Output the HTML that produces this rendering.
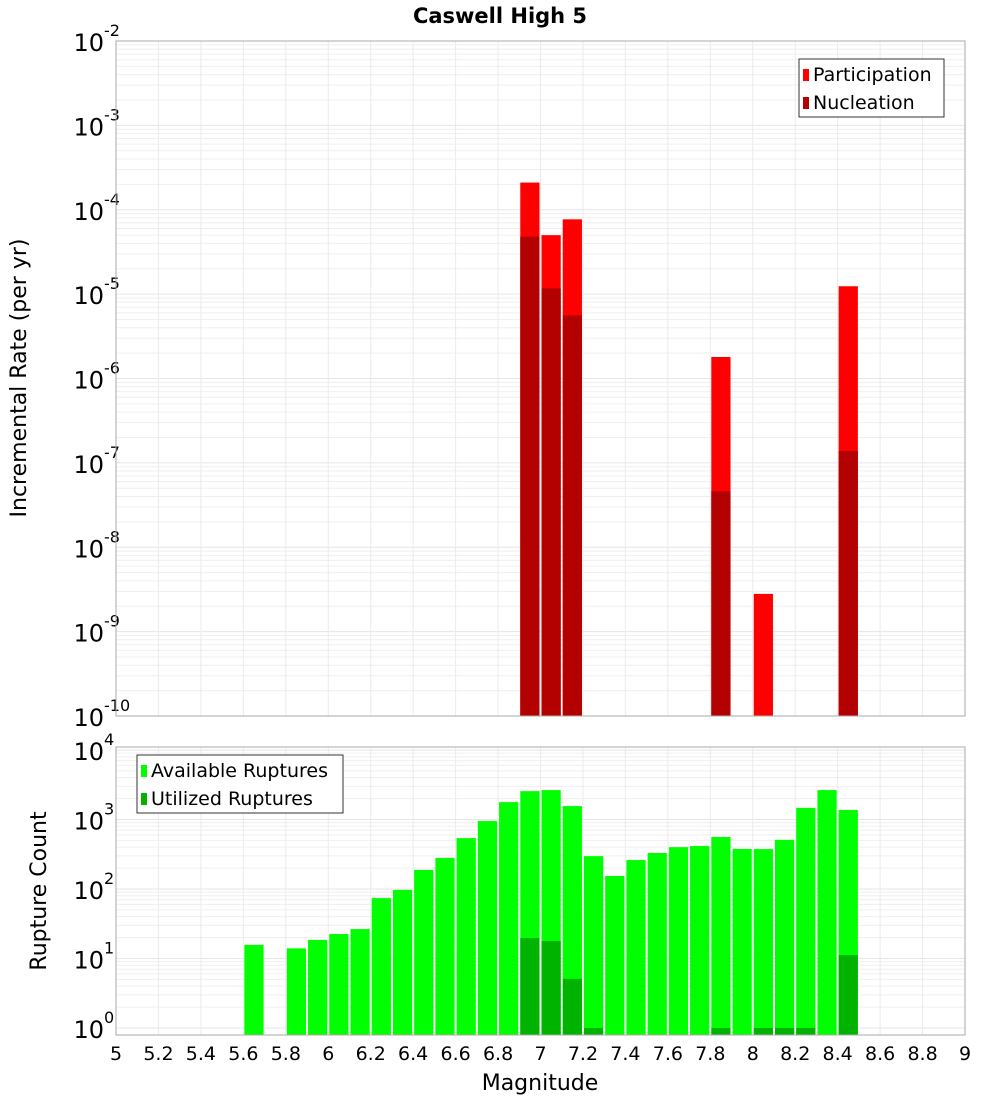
<!DOCTYPE html>
<html><head><meta charset="utf-8"><style>
body{margin:0;background:#fff;font-family:"Liberation Sans","DejaVu Sans",sans-serif}
svg text{font-family:"DejaVu Sans","Liberation Sans",sans-serif}
</style></head><body>
<svg id="c" width="1000" height="1100" xmlns="http://www.w3.org/2000/svg">
<text x="500" y="23" text-anchor="middle" font-size="21" font-weight="bold">Caswell High 5</text>
<g id="topPanel"></g>
<g id="botPanel"></g>
<text transform="translate(26,378) rotate(-90)" text-anchor="middle" font-size="22">Incremental Rate (per yr)</text>
<text transform="translate(46,891) rotate(-90)" text-anchor="middle" font-size="22">Rupture Count</text>
<text x="540" y="1090" text-anchor="middle" font-size="22">Magnitude</text>
</svg>
<script>
const binCenters=[5.65,5.85,5.95,6.05,6.15,6.25,6.35,6.45,6.55,6.65,6.75,6.85,6.95,7.05,7.15,7.25,7.35,7.45,7.55,7.65,7.75,7.85,7.95,8.05,8.15,8.25,8.35,8.45];
const available=[15.7,14,18.5,22.5,26.5,74,97,188,280,540,950,1780,2560,2650,1560,297,154,261,330,400,415,560,377,375,510,1470,2650,1370];
const utilized=[0,0,0,0,0,0,0,0,0,0,0,0,19.7,17.8,5.1,1,0,0,0,0,0,1,0,1,1,1,0,11.2];
const rateMags=[6.95,7.05,7.15,7.85,8.05,8.45];
const participation=[2.1e-4,5e-5,7.7e-5,1.8e-6,2.8e-9,1.24e-5];
const nucleation=[4.8e-5,1.17e-5,5.6e-6,4.6e-8,0,1.38e-7];
const xTicks=[5,5.2,5.4,5.6,5.8,6,6.2,6.4,6.6,6.8,7,7.2,7.4,7.6,7.8,8,8.2,8.4,8.6,8.8,9];
const topExps=[-10,-9,-8,-7,-6,-5,-4,-3,-2];
const botExps=[0,1,2,3,4];
const NS="http://www.w3.org/2000/svg";
const X0=116,X1=965;
const xs=m=>X0+(m-5)*(X1-X0)/4;
const yT=v=>716-84.375*(Math.log10(v)+10);
const yB=v=>1028-69.5*Math.log10(v);
function mk(p,t,a){const e=document.createElementNS(NS,t);for(const k in a)e.setAttribute(k,a[k]);p.appendChild(e);return e;}
function panel(g,t0,b0,y,exps,nm){
  for(let i=0;i<exps.length;i++){for(let k=1;k<10;k++){const v=Math.pow(10,exps[i])*k;const yy=y(v);if(yy<t0||yy>b0)continue;
    const l=mk(g,'line',{x1:X0,x2:X1,y1:yy,y2:yy,stroke:k==1?'#e6e6e6':'#efefef','stroke-width':1});
    
    }}
  for(const t of xTicks){const l=mk(g,'line',{x1:xs(t),x2:xs(t),y1:t0,y2:b0,stroke:'#ebebeb'});
    
    }
  for(const e of exps){const yy=y(Math.pow(10,e));
    const t=mk(g,'text',{x:104,y:yy+10,'text-anchor':'end','font-size':24});t.textContent='10';
    
    
    const s=mk(g,'text',{x:104,y:yy-5,'font-size':16});s.textContent=String(e);
    
    }
}
const gTop=document.getElementById('topPanel'),gBot=document.getElementById('botPanel');
panel(gTop,41,716,yT,topExps,'rate');
panel(gBot,747,1035,yB,botExps,'count');
const bw=(X1-X0)/40;
for(let i=0;i<rateMags.length;i++){
  const x=xs(rateMags[i])-bw/2+1;
  if(participation[i]>0){const r=mk(gTop,'rect',{x:x,width:bw-2,y:yT(participation[i]),height:716-yT(participation[i]),fill:'#ff0000'});
    
    }
  if(nucleation[i]>0){const r=mk(gTop,'rect',{x:x,width:bw-2,y:yT(nucleation[i]),height:716-yT(nucleation[i]),fill:'#b30000'});
    
    }
}
for(let i=0;i<binCenters.length;i++){
  const x=xs(binCenters[i])-bw/2+1;
  if(available[i]>0){const r=mk(gBot,'rect',{x:x,width:bw-2,y:yB(available[i]),height:1035-yB(available[i]),fill:'#00ff00'});
    
    }
  if(utilized[i]>0){const r=mk(gBot,'rect',{x:x,width:bw-2,y:yB(utilized[i]),height:1035-yB(utilized[i]),fill:'#00b300'});
    
    }
}
for(const [g,t,b] of [[gTop,41,716],[gBot,747,1035]]){const r=mk(g,'rect',{x:X0,y:t,width:X1-X0,height:b-t,fill:'none',stroke:'#aaaaaa'});
  
  }
for(const t of xTicks){const tx=mk(gBot,'text',{x:xs(t),y:1060,'text-anchor':'middle','font-size':19});tx.textContent=String(t);
  
  }
function legend(g,x,y,w,items,nm){
  const r=mk(g,'rect',{x:x,y:y,width:w,height:58,fill:'#fff',stroke:'#333'});
  
  
  items.forEach((it,i)=>{const s=mk(g,'rect',{x:x+4,y:y+10+i*28,width:6,height:12,fill:it[1]});
    
    
    const t=mk(g,'text',{x:x+14,y:y+22+i*28,'font-size':19});t.textContent=it[0];
    
    });
}
legend(gTop,799,59,145,[['Participation','#ff0000'],['Nucleation','#b30000']],'rate-legend');
legend(gBot,137,755,206,[['Available Ruptures','#00ff00'],['Utilized Ruptures','#00b300']],'count-legend');
</script>
</body></html>
